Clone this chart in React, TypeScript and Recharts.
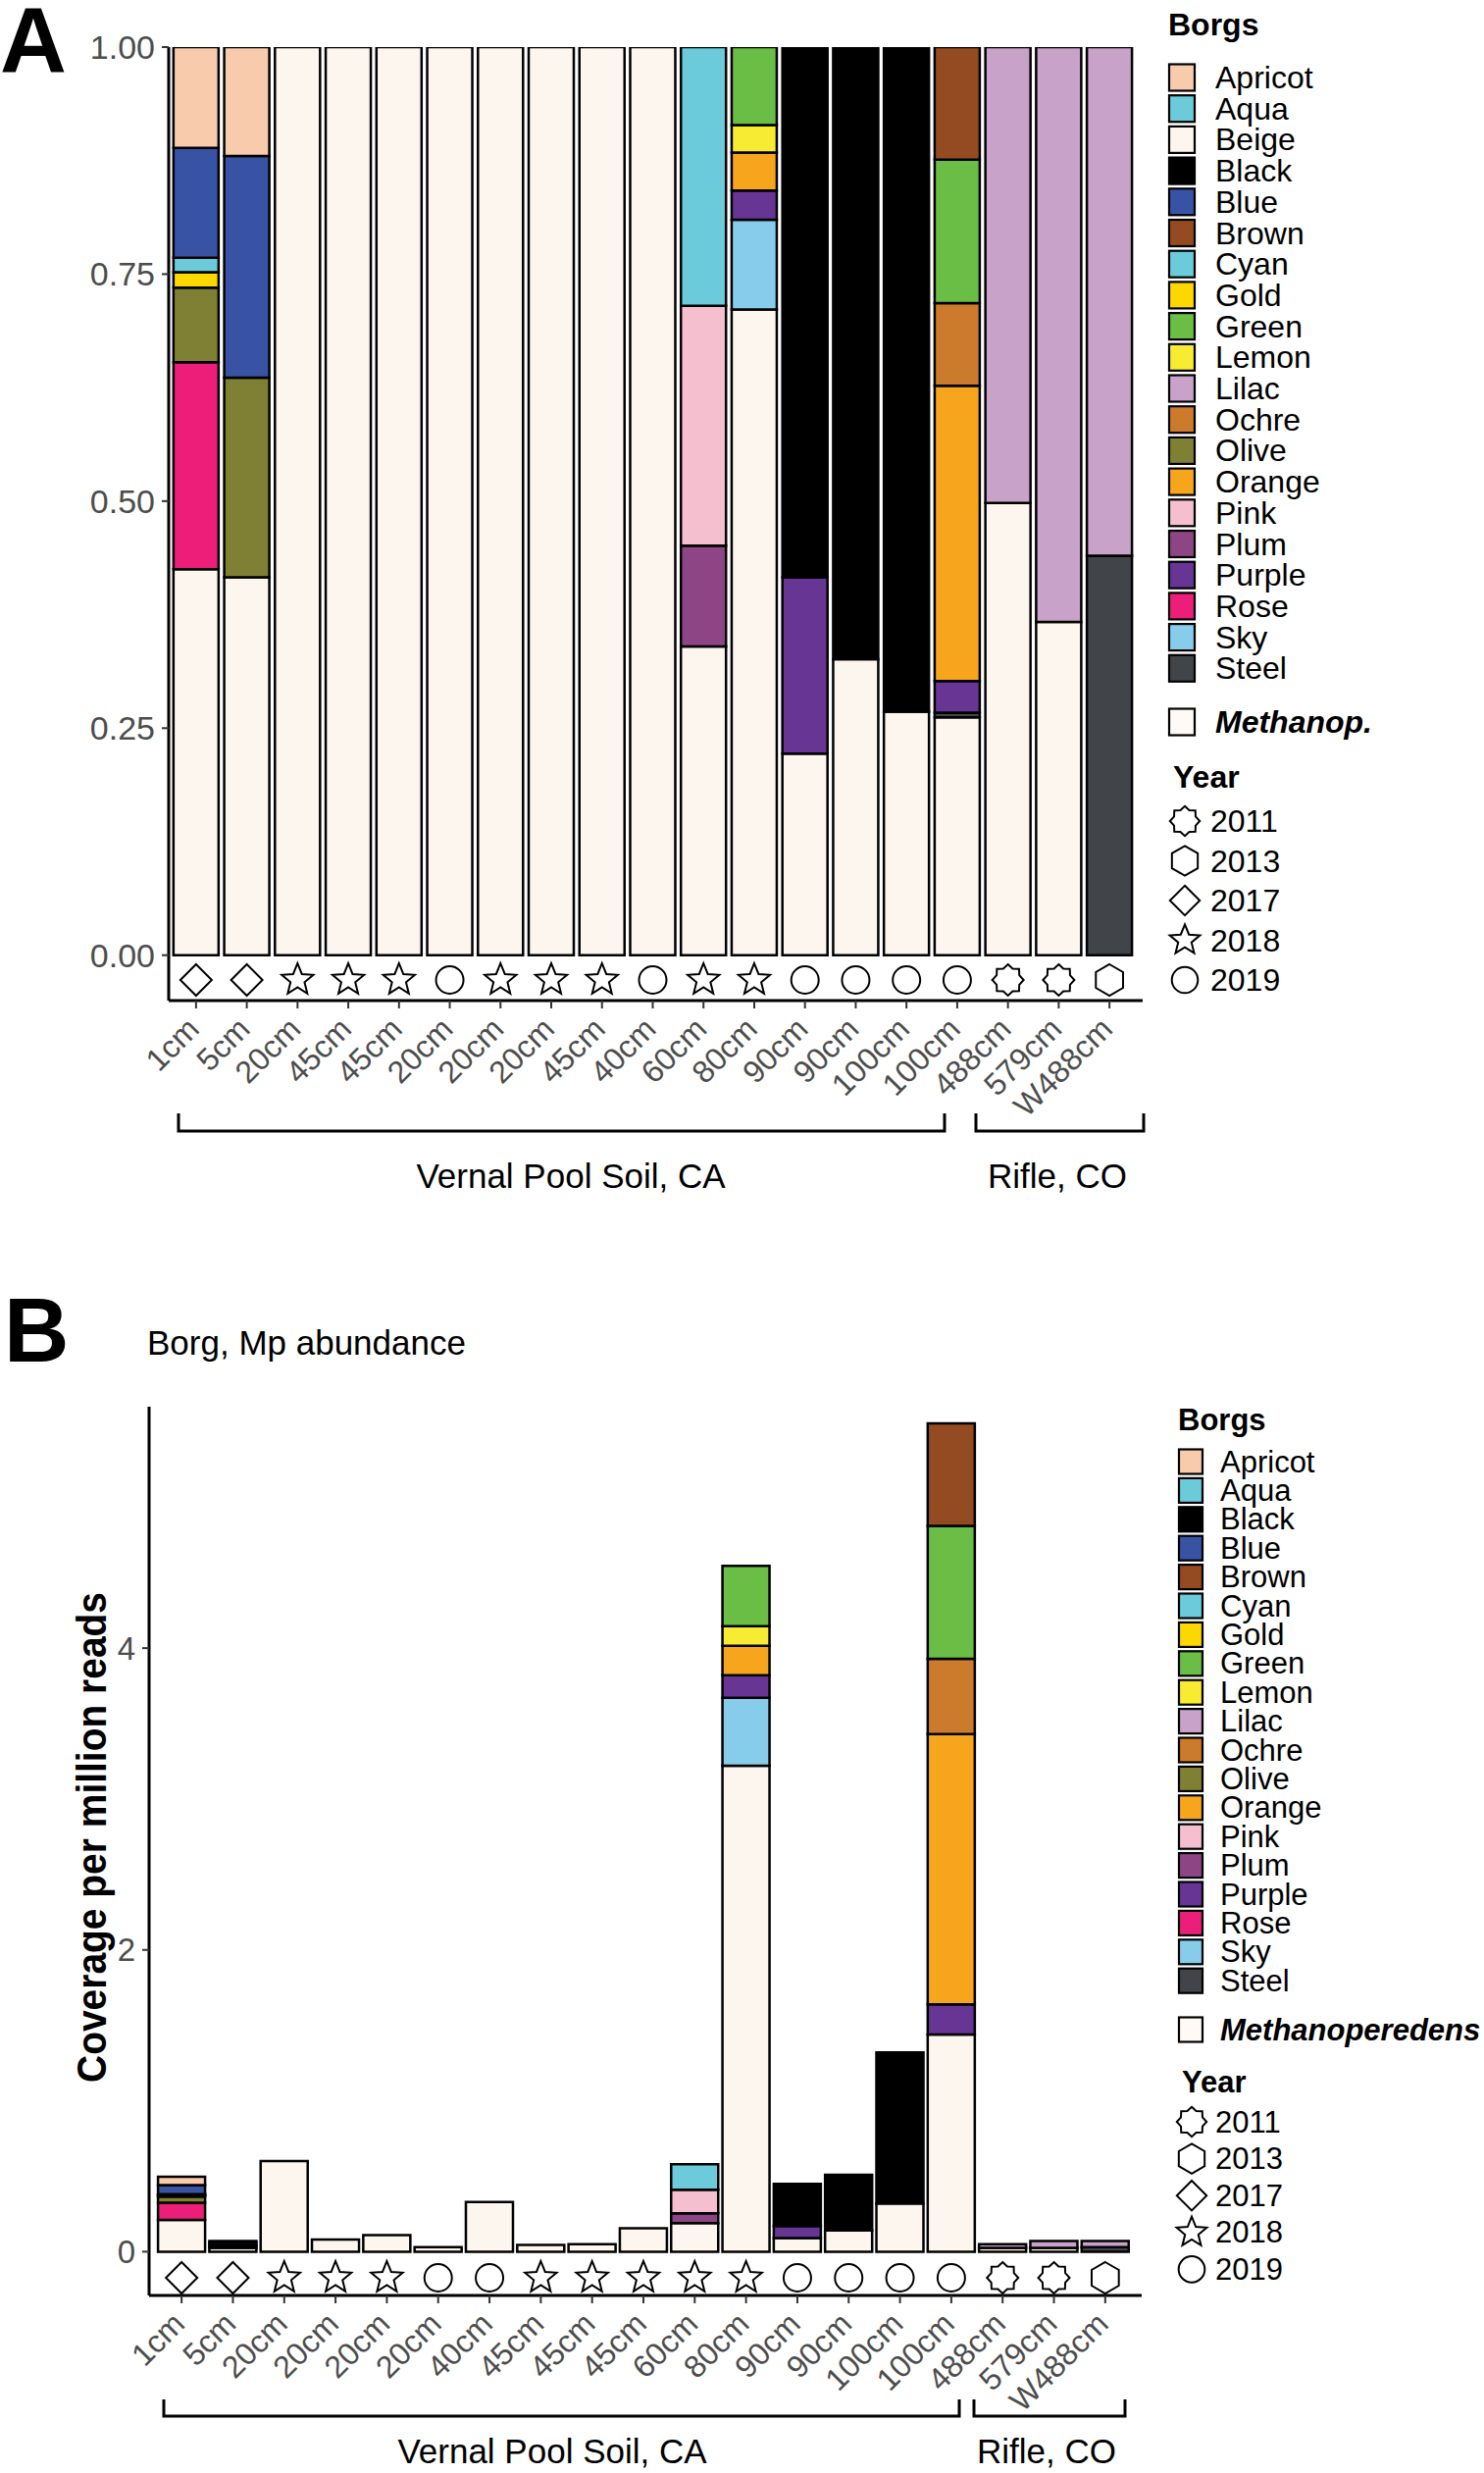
import React from 'react';
import { BarChart, Bar, XAxis, YAxis } from 'recharts';

const FONT = "'Liberation Sans', Arial, Helvetica, sans-serif";
const GREY = '#4d4d4d';

const borgNames = ['Apricot', 'Aqua', 'Beige', 'Black', 'Blue', 'Brown', 'Cyan', 'Gold', 'Green', 'Lemon', 'Lilac', 'Ochre', 'Olive', 'Orange', 'Pink', 'Plum', 'Purple', 'Rose', 'Sky', 'Steel'];
const borgColors = ['#F8CBAD', '#6BCBDB', '#FDF6EE', '#000000', '#3953A4', '#944B22', '#6BCBDB', '#FDD700', '#6ABD45', '#F7EC31', '#C8A2C8', '#CC7A2C', '#808034', '#F7A51D', '#F6BFCF', '#8D4585', '#673695', '#ED1E79', '#87CDEB', '#414449'];
const mpColor = '#FDF6EE';
const yearList = [2011, 2013, 2017, 2018, 2019];

// panel A: relative abundance
const samplesA = ['1cm', '5cm', '20cm', '45cm', '45cm', '20cm', '20cm', '20cm', '45cm', '40cm', '60cm', '80cm', '90cm', '90cm', '100cm', '100cm', '488cm', '579cm', 'W488cm'];
const yearsA = [2017, 2017, 2018, 2018, 2018, 2019, 2018, 2018, 2018, 2019, 2018, 2018, 2019, 2019, 2019, 2019, 2011, 2011, 2013];
const aMethanop = [0.425, 0.416, 1, 1, 1, 1, 1, 1, 1, 1, 0.34, 0.711, 0.222, 0.326, 0.268, 0.262, 0.498, 0.367, 0];
const aApricot = [0.111, 0.12, 0, 0, 0, 0, 0, 0, 0, 0, 0, 0, 0, 0, 0, 0, 0, 0, 0];
const aAqua = [0, 0, 0, 0, 0, 0, 0, 0, 0, 0, 0.285, 0, 0, 0, 0, 0, 0, 0, 0];
const aBlack = [0, 0, 0, 0, 0, 0, 0, 0, 0, 0, 0, 0, 0.584, 0.674, 0.732, 0, 0, 0, 0];
const aBlue = [0.121, 0.244, 0, 0, 0, 0, 0, 0, 0, 0, 0, 0, 0, 0, 0, 0, 0, 0, 0];
const aBrown = [0, 0, 0, 0, 0, 0, 0, 0, 0, 0, 0, 0, 0, 0, 0, 0.124, 0, 0, 0];
const aCyan = [0.016, 0, 0, 0, 0, 0, 0, 0, 0, 0, 0, 0, 0, 0, 0, 0, 0, 0, 0];
const aGold = [0.017, 0, 0, 0, 0, 0, 0, 0, 0, 0, 0, 0, 0, 0, 0, 0, 0, 0, 0];
const aGreen = [0, 0, 0, 0, 0, 0, 0, 0, 0, 0, 0, 0.086, 0, 0, 0, 0.158, 0, 0, 0];
const aLemon = [0, 0, 0, 0, 0, 0, 0, 0, 0, 0, 0, 0.03, 0, 0, 0, 0, 0, 0, 0];
const aLilac = [0, 0, 0, 0, 0, 0, 0, 0, 0, 0, 0, 0, 0, 0, 0, 0, 0.502, 0.633, 0.56];
const aOchre = [0, 0, 0, 0, 0, 0, 0, 0, 0, 0, 0, 0, 0, 0, 0, 0.091, 0, 0, 0];
const aOlive = [0.082, 0.22, 0, 0, 0, 0, 0, 0, 0, 0, 0, 0, 0, 0, 0, 0, 0, 0, 0];
const aOrange = [0, 0, 0, 0, 0, 0, 0, 0, 0, 0, 0, 0.042, 0, 0, 0, 0.325, 0, 0, 0];
const aPink = [0, 0, 0, 0, 0, 0, 0, 0, 0, 0, 0.264, 0, 0, 0, 0, 0, 0, 0, 0];
const aPlum = [0, 0, 0, 0, 0, 0, 0, 0, 0, 0, 0.111, 0, 0, 0, 0, 0, 0, 0, 0];
const aPurple = [0, 0, 0, 0, 0, 0, 0, 0, 0, 0, 0, 0.032, 0.194, 0, 0, 0.035, 0, 0, 0];
const aRose = [0.228, 0, 0, 0, 0, 0, 0, 0, 0, 0, 0, 0, 0, 0, 0, 0, 0, 0, 0];
const aSky = [0, 0, 0, 0, 0, 0, 0, 0, 0, 0, 0, 0.099, 0, 0, 0, 0, 0, 0, 0];
const aSteel = [0, 0, 0, 0, 0, 0, 0, 0, 0, 0, 0, 0, 0, 0, 0, 0.005, 0, 0, 0.44];

// panel B: coverage per million reads
const samplesB = ['1cm', '5cm', '20cm', '20cm', '20cm', '20cm', '40cm', '45cm', '45cm', '45cm', '60cm', '80cm', '90cm', '90cm', '100cm', '100cm', '488cm', '579cm', 'W488cm'];
const yearsB = [2017, 2017, 2018, 2018, 2018, 2019, 2019, 2018, 2018, 2018, 2018, 2018, 2019, 2019, 2019, 2019, 2011, 2011, 2013];
const bMethanop = [0.21, 0.025, 0.6, 0.08, 0.11, 0.03, 0.33, 0.045, 0.05, 0.155, 0.19, 3.22, 0.09, 0.14, 0.32, 1.44, 0.025, 0.026, 0];
const bApricot = [0.055, 0.01, 0, 0, 0, 0, 0, 0, 0, 0, 0, 0, 0, 0, 0, 0, 0, 0, 0];
const bAqua = [0, 0, 0, 0, 0, 0, 0, 0, 0, 0, 0.17, 0, 0, 0, 0, 0, 0, 0, 0];
const bBlack = [0, 0, 0, 0, 0, 0, 0, 0, 0, 0, 0, 0, 0.28, 0.37, 1.0, 0, 0, 0, 0];
const bBlue = [0.06, 0.018, 0, 0, 0, 0, 0, 0, 0, 0, 0, 0, 0, 0, 0, 0, 0, 0, 0];
const bBrown = [0, 0, 0, 0, 0, 0, 0, 0, 0, 0, 0, 0, 0, 0, 0, 0.68, 0, 0, 0];
const bCyan = [0.008, 0, 0, 0, 0, 0, 0, 0, 0, 0, 0, 0, 0, 0, 0, 0, 0, 0, 0];
const bGold = [0.009, 0, 0, 0, 0, 0, 0, 0, 0, 0, 0, 0, 0, 0, 0, 0, 0, 0, 0];
const bGreen = [0, 0, 0, 0, 0, 0, 0, 0, 0, 0, 0, 0.4, 0, 0, 0, 0.88, 0, 0, 0];
const bLemon = [0, 0, 0, 0, 0, 0, 0, 0, 0, 0, 0, 0.13, 0, 0, 0, 0, 0, 0, 0];
const bLilac = [0, 0, 0, 0, 0, 0, 0, 0, 0, 0, 0, 0, 0, 0, 0, 0, 0.025, 0.045, 0.04];
const bOchre = [0, 0, 0, 0, 0, 0, 0, 0, 0, 0, 0, 0, 0, 0, 0, 0.5, 0, 0, 0];
const bOlive = [0.04, 0.017, 0, 0, 0, 0, 0, 0, 0, 0, 0, 0, 0, 0, 0, 0, 0, 0, 0];
const bOrange = [0, 0, 0, 0, 0, 0, 0, 0, 0, 0, 0, 0.195, 0, 0, 0, 1.79, 0, 0, 0];
const bPink = [0, 0, 0, 0, 0, 0, 0, 0, 0, 0, 0.155, 0, 0, 0, 0, 0, 0, 0, 0];
const bPlum = [0, 0, 0, 0, 0, 0, 0, 0, 0, 0, 0.065, 0, 0, 0, 0, 0, 0, 0, 0];
const bPurple = [0, 0, 0, 0, 0, 0, 0, 0, 0, 0, 0, 0.15, 0.08, 0, 0, 0.2, 0, 0, 0];
const bRose = [0.115, 0, 0, 0, 0, 0, 0, 0, 0, 0, 0, 0, 0, 0, 0, 0, 0, 0, 0];
const bSky = [0, 0, 0, 0, 0, 0, 0, 0, 0, 0, 0, 0.45, 0, 0, 0, 0, 0, 0, 0];
const bSteel = [0, 0, 0, 0, 0, 0, 0, 0, 0, 0, 0, 0, 0, 0, 0, 0, 0, 0, 0.03];

// stacking order, bottom first
const seriesA: [string, number[]][] = [
  ['Methanop', aMethanop], ['Steel', aSteel], ['Sky', aSky], ['Rose', aRose], ['Purple', aPurple], ['Plum', aPlum],
  ['Pink', aPink], ['Orange', aOrange], ['Olive', aOlive], ['Ochre', aOchre], ['Lilac', aLilac], ['Lemon', aLemon],
  ['Green', aGreen], ['Gold', aGold], ['Cyan', aCyan], ['Brown', aBrown], ['Blue', aBlue], ['Black', aBlack],
  ['Aqua', aAqua], ['Apricot', aApricot],
];
const seriesB: [string, number[]][] = [
  ['Methanop', bMethanop], ['Steel', bSteel], ['Sky', bSky], ['Rose', bRose], ['Purple', bPurple], ['Plum', bPlum],
  ['Pink', bPink], ['Orange', bOrange], ['Olive', bOlive], ['Ochre', bOchre], ['Lilac', bLilac], ['Lemon', bLemon],
  ['Green', bGreen], ['Gold', bGold], ['Cyan', bCyan], ['Brown', bBrown], ['Blue', bBlue], ['Black', bBlack],
  ['Aqua', bAqua], ['Apricot', bApricot],
];

const colorOf = (name: string) => (name === 'Methanop' ? mpColor : borgColors[borgNames.indexOf(name)]);

const buildRows = (series: [string, number[]][], n: number) =>
  Array.from({ length: n }, (_, i) => {
    const row: Record<string, any> = { id: 's' + i };
    series.forEach(([name, vals]) => (row[name] = vals[i]));
    return row;
  });

const dataA = buildRows(seriesA, samplesA.length);
const dataB = buildRows(seriesB, samplesB.length);

function polyPoints(cx: number, cy: number, n: number, ro: number, ri: number) {
  const pts: string[] = [];
  const step = Math.PI / n;
  for (let k = 0; k < 2 * n; k++) {
    if (ri === 0 && k % 2 === 1) continue;
    const r = k % 2 === 0 ? ro : ri;
    const a = -Math.PI / 2 + k * step;
    pts.push(`${cx + r * Math.cos(a)},${cy + r * Math.sin(a)}`);
  }
  return pts.join(' ');
}

function YearMark({ year, cx, cy, s = 1 }: { year: number; cx: number; cy: number; s?: number }) {
  const p = { fill: 'none', stroke: '#000', strokeWidth: 2, strokeLinejoin: 'miter' as const };
  if (year === 2019) return <circle cx={cx} cy={cy} r={14 * s} {...p} />;
  if (year === 2017) return <polygon points={polyPoints(cx, cy, 4, 16 * s, 0)} {...p} />;
  if (year === 2018) return <polygon points={polyPoints(cx, cy, 5, 17 * s, 7.5 * s)} {...p} />;
  if (year === 2013) return <polygon points={polyPoints(cx, cy, 6, 16 * s, 0)} {...p} />;
  return <polygon points={polyPoints(cx, cy, 8, 16 * s, 12.5 * s)} {...p} />;
}

function SampleTick(props: any) {
  const { x, y, payload, labels, years, markUp } = props;
  const i = Number(String(payload.value).slice(1));
  return (
    <g>
      <YearMark year={years[i]} cx={x} cy={y - markUp} />
      <text
        transform={`translate(${x + 5},${y + 22}) rotate(-45)`}
        textAnchor="end"
        fontSize={32}
        fill={GREY}
        fontFamily={FONT}
      >
        {labels[i]}
      </text>
    </g>
  );
}

function StackBars({ series }: { series: [string, number[]][] }) {
  return (
    <>
      {series.map(([name]) => (
        <Bar
          key={name}
          dataKey={name}
          stackId="a"
          fill={colorOf(name)}
          stroke="#000"
          strokeWidth={2.5}
          isAnimationActive={false}
        />
      ))}
    </>
  );
}

function PanelA() {
  return (
    <BarChart width={1513} height={1260} data={dataA} margin={{ top: 48, right: 348, left: 72, bottom: 110 }} barCategoryGap="5.5%">
      <XAxis
        dataKey="id"
        height={130}
        interval={0}
        padding={{ left: 2, right: 8 }}
        axisLine={{ stroke: '#000', strokeWidth: 3 }}
        tickLine={{ stroke: '#333', strokeWidth: 2 }}
        tickSize={8}
        tickMargin={1}
        tick={(p: any) => <SampleTick {...p} labels={samplesA} years={yearsA} markUp={30} />}
      />
      <YAxis
        width={100}
        domain={[-0.05, 1]}
        ticks={[0, 0.25, 0.5, 0.75, 1]}
        allowDataOverflow
        tickFormatter={(v: number) => v.toFixed(2)}
        axisLine={{ stroke: '#000', strokeWidth: 3 }}
        tickLine={{ stroke: '#333', strokeWidth: 2 }}
        tickSize={7}
        tickMargin={7}
        tick={{ fontSize: 34, fill: GREY, fontFamily: FONT }}
      />
      {StackBars({ series: seriesA })}
    </BarChart>
  );
}

function PanelB() {
  return (
    <BarChart width={1513} height={1221} data={dataB} margin={{ top: 134, right: 349, left: 52, bottom: 61 }} barCategoryGap="4%">
      <XAxis
        dataKey="id"
        height={120}
        interval={0}
        padding={{ left: 7, right: 11 }}
        axisLine={{ stroke: '#000', strokeWidth: 3 }}
        tickLine={{ stroke: '#333', strokeWidth: 2 }}
        tickSize={8}
        tickMargin={1}
        tick={(p: any) => <SampleTick {...p} labels={samplesB} years={yearsB} markUp={27} />}
      />
      <YAxis
        width={100}
        domain={[-0.29, 5.6]}
        ticks={[0, 2, 4]}
        allowDataOverflow
        axisLine={{ stroke: '#000', strokeWidth: 3 }}
        tickLine={{ stroke: '#333', strokeWidth: 2 }}
        tickSize={7}
        tickMargin={7}
        tick={{ fontSize: 33, fill: GREY, fontFamily: FONT }}
      />
      {StackBars({ series: seriesB })}
    </BarChart>
  );
}

interface LegendCfg {
  names: string[];
  titleX: number;
  titleY: number;
  keyX: number;
  keyW: number;
  keyH: number;
  textX: number;
  firstY: number;
  step: number;
  fontSize: number;
  mpLabel: string;
  mpY: number;
  yearTitleX: number;
  yearTitleY: number;
  yearY: number;
  yearStep: number;
  markX: number;
  yearTextX: number;
}

function BorgLegend({ c }: { c: LegendCfg }) {
  return (
    <g fontFamily={FONT} fill="#000">
      <text x={c.titleX} y={c.titleY} fontSize={c.fontSize} fontWeight="bold" dominantBaseline="central">Borgs</text>
      {c.names.map((n, i) => (
        <g key={n}>
          <rect x={c.keyX} y={c.firstY + i * c.step - c.keyH / 2} width={c.keyW} height={c.keyH} fill={colorOf(n)} stroke="#000" strokeWidth={2.2} />
          <text x={c.textX} y={c.firstY + i * c.step} fontSize={c.fontSize} dominantBaseline="central">{n}</text>
        </g>
      ))}
      <rect x={c.keyX} y={c.mpY - c.keyH / 2} width={c.keyW} height={c.keyH} fill="#fffaf5" stroke="#000" strokeWidth={2.2} />
      <text x={c.textX} y={c.mpY} fontSize={c.fontSize} fontWeight="bold" fontStyle="italic" dominantBaseline="central">{c.mpLabel}</text>
      <text x={c.yearTitleX} y={c.yearTitleY} fontSize={c.fontSize} fontWeight="bold" dominantBaseline="central">Year</text>
      {yearList.map((yr, j) => (
        <g key={yr}>
          <YearMark year={yr} cx={c.markX} cy={c.yearY + j * c.yearStep} s={0.95} />
          <text x={c.yearTextX} y={c.yearY + j * c.yearStep} fontSize={c.fontSize} dominantBaseline="central">{yr}</text>
        </g>
      ))}
    </g>
  );
}

const legendA: LegendCfg = {
  names: borgNames, titleX: 1191, titleY: 25, keyX: 1192, keyW: 26, keyH: 27, textX: 1239, firstY: 79, step: 31.7,
  fontSize: 32, mpLabel: 'Methanop.', mpY: 736, yearTitleX: 1196, yearTitleY: 792, yearY: 837, yearStep: 40.5,
  markX: 1208, yearTextX: 1234,
};
const legendB: LegendCfg = {
  names: borgNames.filter((n) => n !== 'Beige'), titleX: 1201, titleY: 1447, keyX: 1202, keyW: 24, keyH: 25, textX: 1244,
  firstY: 1490, step: 29.4, fontSize: 31, mpLabel: 'Methanoperedens', mpY: 2069, yearTitleX: 1205, yearTitleY: 2122,
  yearY: 2163, yearStep: 37.6, markX: 1215, yearTextX: 1239,
};

function Bracket({ x1, x2, y, h, label, lx, ly }: { x1: number; x2: number; y: number; h: number; label: string; lx: number; ly: number }) {
  return (
    <g>
      <polyline points={`${x1},${y - h} ${x1},${y} ${x2},${y} ${x2},${y - h}`} fill="none" stroke="#000" strokeWidth={3} />
      <text x={lx} y={ly} textAnchor="middle" dominantBaseline="central" fontSize={35} fontFamily={FONT} fill="#000">{label}</text>
    </g>
  );
}

export default function App() {
  return (
    <div style={{ position: 'absolute', left: 0, top: 0, width: 1513, height: 2521, background: '#fff', overflow: 'hidden', fontFamily: FONT }}>
      <div style={{ position: 'absolute', left: 0, top: 0 }}>
        <PanelA />
      </div>
      <div style={{ position: 'absolute', left: 0, top: 1300 }}>
        <PanelB />
      </div>
      <svg width={1513} height={2521} style={{ position: 'absolute', left: 0, top: 0, pointerEvents: 'none' }}>
        <text x={0} y={74} fontSize={94} fontWeight="bold" fontFamily={FONT}>A</text>
        <text x={4} y={1388} fontSize={92} fontWeight="bold" fontFamily={FONT}>B</text>
        <text x={150} y={1368} fontSize={35} fontFamily={FONT} dominantBaseline="central">Borg, Mp abundance</text>
        <text
          transform="translate(93,1873) rotate(-90)"
          textAnchor="middle"
          dominantBaseline="central"
          fontSize={43}
          fontWeight="bold"
          fontFamily={FONT}
          textLength={500}
          lengthAdjust="spacingAndGlyphs"
        >
          Coverage per million reads
        </text>
        <Bracket x1={182} x2={963} y={1153} h={18} label="Vernal Pool Soil, CA" lx={582} ly={1198} />
        <Bracket x1={995} x2={1166} y={1153} h={18} label="Rifle, CO" lx={1078} ly={1198} />
        <Bracket x1={167} x2={978} y={2463} h={17} label="Vernal Pool Soil, CA" lx={563} ly={2498} />
        <Bracket x1={993} x2={1147} y={2463} h={17} label="Rifle, CO" lx={1067} ly={2498} />
        <BorgLegend c={legendA} />
        <BorgLegend c={legendB} />
      </svg>
    </div>
  );
}
